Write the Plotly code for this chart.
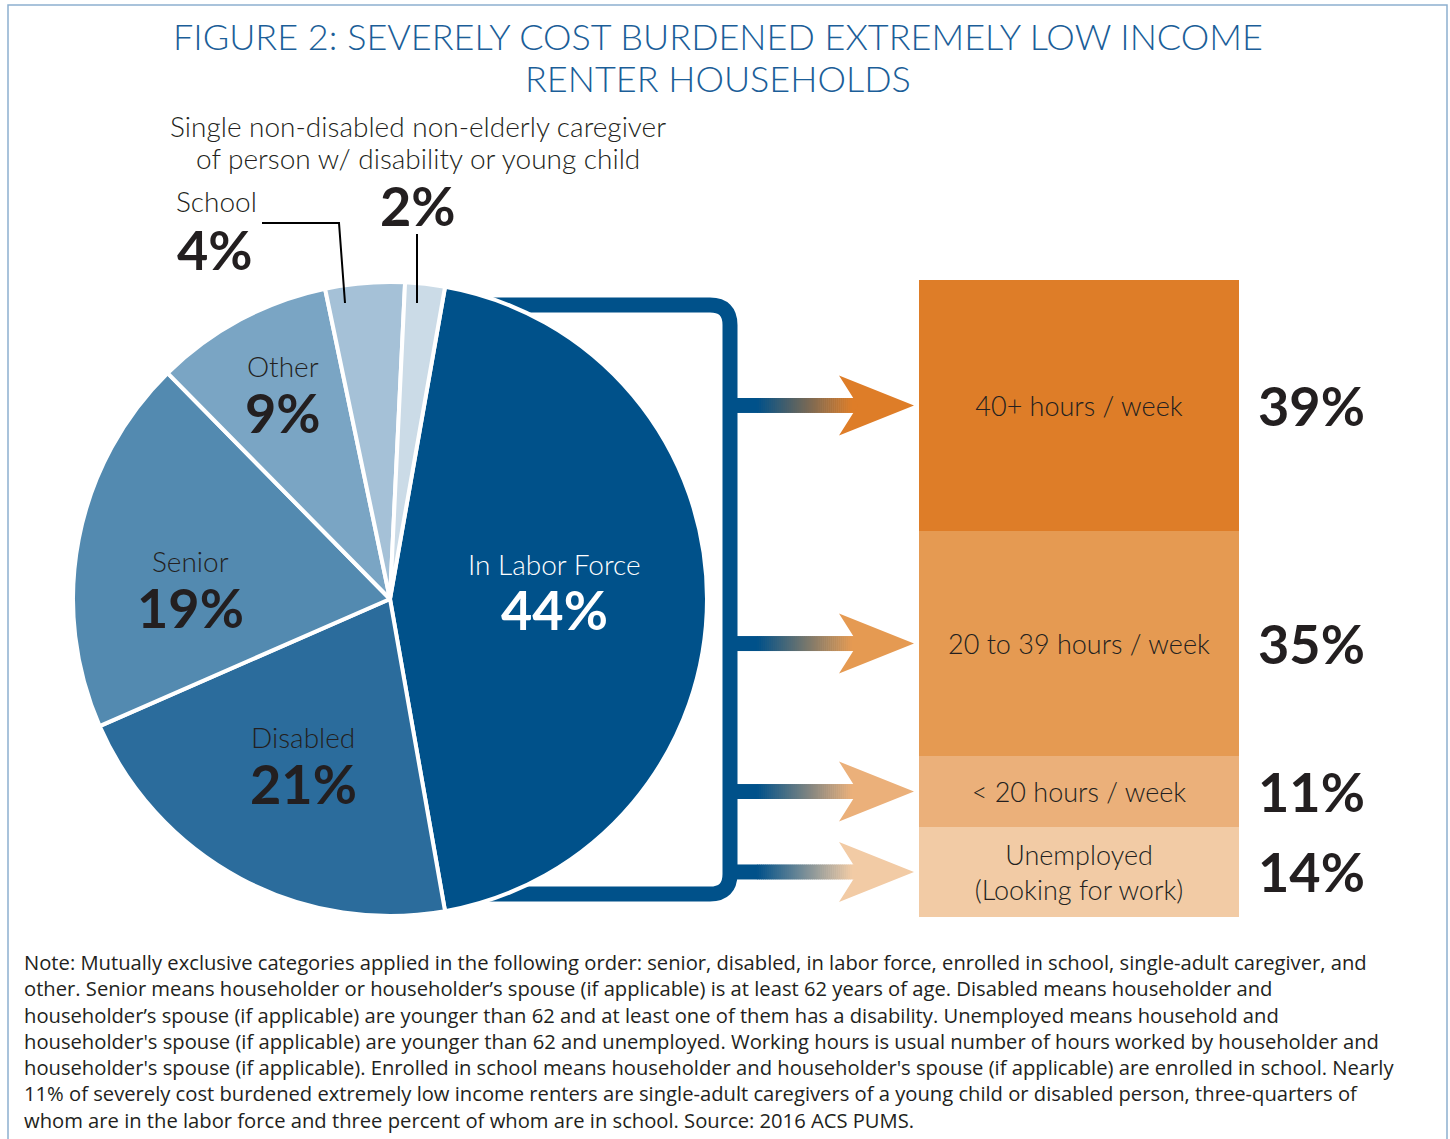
import math
import plotly.graph_objects as go

W, H = 1450, 1139

# ---------------- data ----------------
pie_labels = ["In Labor Force", "Disabled", "Senior", "Other", "School",
              "Single non-disabled non-elderly caregiver of person w/ disability or young child"]
pie_values = [44, 21, 19, 9, 4, 2]
pie_colors = ["#00518A", "#2B6C9C", "#538AB0", "#7AA5C4", "#A5C1D7", "#CBDBE7"]

work_labels = ["40+ hours / week", "20 to 39 hours / week", "< 20 hours / week",
               "Unemployed<br>(Looking for work)"]
work_values = [39, 35, 11, 14]
work_colors = ["#DE7D28", "#E59A52", "#EBB07A", "#F2CBA5"]

title_lines = ["FIGURE 2: SEVERELY COST BURDENED EXTREMELY LOW INCOME", "RENTER HOUSEHOLDS"]
caregiver_lines = ["Single non-disabled non-elderly caregiver", "of person w/ disability or young child"]
note_lines = [
    "Note: Mutually exclusive categories applied in the following order: senior, disabled, in labor force, enrolled in school, single-adult caregiver, and",
    "other. Senior means householder or householder\u2019s spouse (if applicable) is at least 62 years of age. Disabled means householder and",
    "householder\u2019s spouse (if applicable) are younger than 62 and at least one of them has a disability. Unemployed means household and",
    "householder's spouse (if applicable) are younger than 62 and unemployed. Working hours is usual number of hours worked by householder and",
    "householder's spouse (if applicable). Enrolled in school means householder and householder's spouse (if applicable) are enrolled in school. Nearly",
    "11% of severely cost burdened extremely low income renters are single-adult caregivers of a young child or disabled person, three-quarters of",
    "whom are in the labor force and three percent of whom are in school. Source: 2016 ACS PUMS.",
]

# ---------------- helpers ----------------
def px(x):
    return x / W

def py(y):
    return 1 - y / H

FONT = "Lato"
NOTE_FONT = "Open Sans"
DARK = "#231F20"
BLUE = "#00518A"

# pie geometry (layout)
PIE_L, PIE_R, PIE_T, PIE_B = 73, 707, 282, 916
CX, CY = (PIE_L + PIE_R) / 2, (PIE_T + PIE_B) / 2
R = (PIE_R - PIE_L) / 2
ROT = 10

# bar geometry (layout)
BAR_L, BAR_R, BAR_T, BAR_B = 919, 1239, 280, 917

fig = go.Figure()

fig.add_trace(go.Pie(
    values=pie_values, labels=pie_labels, sort=False, direction="clockwise",
    rotation=ROT, textinfo="none", hoverinfo="label+value",
    marker=dict(colors=pie_colors, line=dict(color="white", width=4)),
    domain=dict(x=[px(PIE_L), px(PIE_R)], y=[py(PIE_B), py(PIE_T)]),
    showlegend=False,
))

# stacked bar (bottom first)
for lab, val, col in reversed(list(zip(work_labels, work_values, work_colors))):
    fig.add_trace(go.Bar(
        x=[0], y=[val], width=1, marker=dict(color=col, line=dict(width=0)),
        text=[lab], textposition="inside", insidetextanchor="middle", textangle=0,
        constraintext="none", insidetextfont=dict(family=FONT, size=27, color=DARK, weight=300),
        showlegend=False, hoverinfo="y",
    ))

total_w = sum(work_values)
fig.update_layout(
    width=W, height=H, margin=dict(l=0, r=0, t=0, b=0),
    paper_bgcolor="white", plot_bgcolor="rgba(0,0,0,0)",
    barmode="stack", bargap=0,
    xaxis=dict(domain=[px(BAR_L), px(BAR_R)], range=[-0.5, 0.5], visible=False, fixedrange=True),
    yaxis=dict(domain=[py(BAR_B), py(BAR_T)], range=[0, total_w], visible=False, fixedrange=True),
    font=dict(family=FONT, color=DARK),
)

shapes = []
annotations = []

def text(t, x, y, size, color=DARK, xanchor="center", weight=300, family=FONT, yref="paper", yv=None,
         yanchor="middle", align="center"):
    annotations.append(dict(text=t, xref="paper", yref=yref, x=px(x), y=(py(y) if yv is None else yv),
                            xanchor=xanchor, yanchor=yanchor, align=align, showarrow=False,
                            font=dict(family=family, size=size, color=color, weight=weight)))

# border
shapes.append(dict(type="rect", xref="paper", yref="paper", x0=px(8), x1=px(1447), y0=py(5), y1=py(1150),
                   line=dict(color="#8DB0D0", width=1.5), fillcolor="rgba(0,0,0,0)", layer="below"))

# title
for i, t in enumerate(title_lines):
    text(t, 718, 36 + 42 * i, 36, color="#1B5E98")

# bracket (blue)
r = 20
bt, bb, bx, bl = 305, 894, 730, 470
path = (f"M {px(bl)},{py(bt)} L {px(bx - r)},{py(bt)} Q {px(bx)},{py(bt)} {px(bx)},{py(bt + r)} "
        f"L {px(bx)},{py(bb - r)} Q {px(bx)},{py(bb)} {px(bx - r)},{py(bb)} L {px(bl)},{py(bb)}")
shapes.append(dict(type="path", xref="paper", yref="paper", path=path,
                   line=dict(color=BLUE, width=15), layer="below"))

# arrows at bar segment midpoints
def hex2rgb(h):
    h = h.lstrip("#")
    return tuple(int(h[i:i + 2], 16) for i in (0, 2, 4))

blue_rgb = hex2rgb(BLUE)
cum = 0
mids_pix = []
for val in work_values:
    mid = cum + val / 2
    cum += val
    mids_pix.append(BAR_T + mid / total_w * (BAR_B - BAR_T))

for ymid, col in zip(mids_pix, work_colors):
    c2 = hex2rgb(col)
    x_start, g0, g1, x_end = 737, 757, 852, 860
    n = 48
    xs = [x_start] + [g0 + (g1 - g0) * k / n for k in range(n + 1)] + [x_end]
    for k in range(len(xs) - 1):
        xa, xb = xs[k], xs[k + 1]
        xm = (xa + xb) / 2
        t = min(max((xm - g0) / (g1 - g0), 0), 1)
        c = tuple(round(blue_rgb[j] + (c2[j] - blue_rgb[j]) * t) for j in range(3))
        shapes.append(dict(type="rect", xref="paper", yref="paper",
                           x0=px(xa), x1=px(xb + 0.6), y0=py(ymid - 7.5), y1=py(ymid + 7.5),
                           fillcolor=f"rgb{c}", line=dict(width=0), layer="above"))
    head = (f"M {px(839)},{py(ymid - 30)} L {px(914)},{py(ymid)} L {px(839)},{py(ymid + 30)} "
            f"L {px(858)},{py(ymid)} Z")
    shapes.append(dict(type="path", xref="paper", yref="paper", path=head,
                       fillcolor=col, line=dict(width=0), layer="above"))

# right-hand percentages
cum_top = total_w
for val in work_values:
    ymid = cum_top - val / 2
    cum_top -= val
    text(f"<b>{val}%</b>", 1311, 0, 54, weight=900, yref="y", yv=ymid)

# pie inside labels
label_style = {
    0: dict(rf=0.52, da=-4, color="white"),
    1: dict(rf=0.58, da=0, color=DARK),
    2: dict(rf=0.63, da=-7, color=DARK),
    3: dict(rf=0.74, da=1, color=DARK),
}
tot = sum(pie_values)
acc = 0
for i, v in enumerate(pie_values):
    a0 = ROT + acc / tot * 360
    acc += v
    a1 = ROT + acc / tot * 360
    if i in label_style:
        st = label_style[i]
        am = math.radians((a0 + a1) / 2 + st["da"])
        x = CX + st["rf"] * R * math.sin(am)
        y = CY - st["rf"] * R * math.cos(am)
        text(pie_labels[i], x, y - 24, 28, color=st["color"])
        text(f"<b>{v}%</b>", x, y + 22, 54, color=st["color"], weight=900)

# outside labels: School and caregiver
text(pie_labels[4], 174, 201, 28, xanchor="left")
text(f"<b>{pie_values[4]}%</b>", 175, 250, 54, xanchor="left", weight=900)
for i, t in enumerate(caregiver_lines):
    text(t, 418, 126 + 32 * i, 28)
text(f"<b>{pie_values[5]}%</b>", 418, 206, 54, weight=900)

# leader lines
shapes.append(dict(type="path", xref="paper", yref="paper",
                   path=f"M {px(262)},{py(223)} L {px(339)},{py(223)} L {px(345)},{py(303)}",
                   line=dict(color="black", width=2)))
shapes.append(dict(type="line", xref="paper", yref="paper", x0=px(417), x1=px(417), y0=py(234), y1=py(303),
                   line=dict(color="black", width=2)))

# note (single multi-line block)
text("<br>".join(note_lines), 22, 946, 20.2, xanchor="left", family=NOTE_FONT, weight=400,
     yanchor="top", align="left")

fig.update_layout(shapes=shapes, annotations=annotations)
fig.write_html("out.html", config={"displayModeBar": False},
               post_script="document.body.style.margin='0px';document.body.style.overflow='hidden';")
